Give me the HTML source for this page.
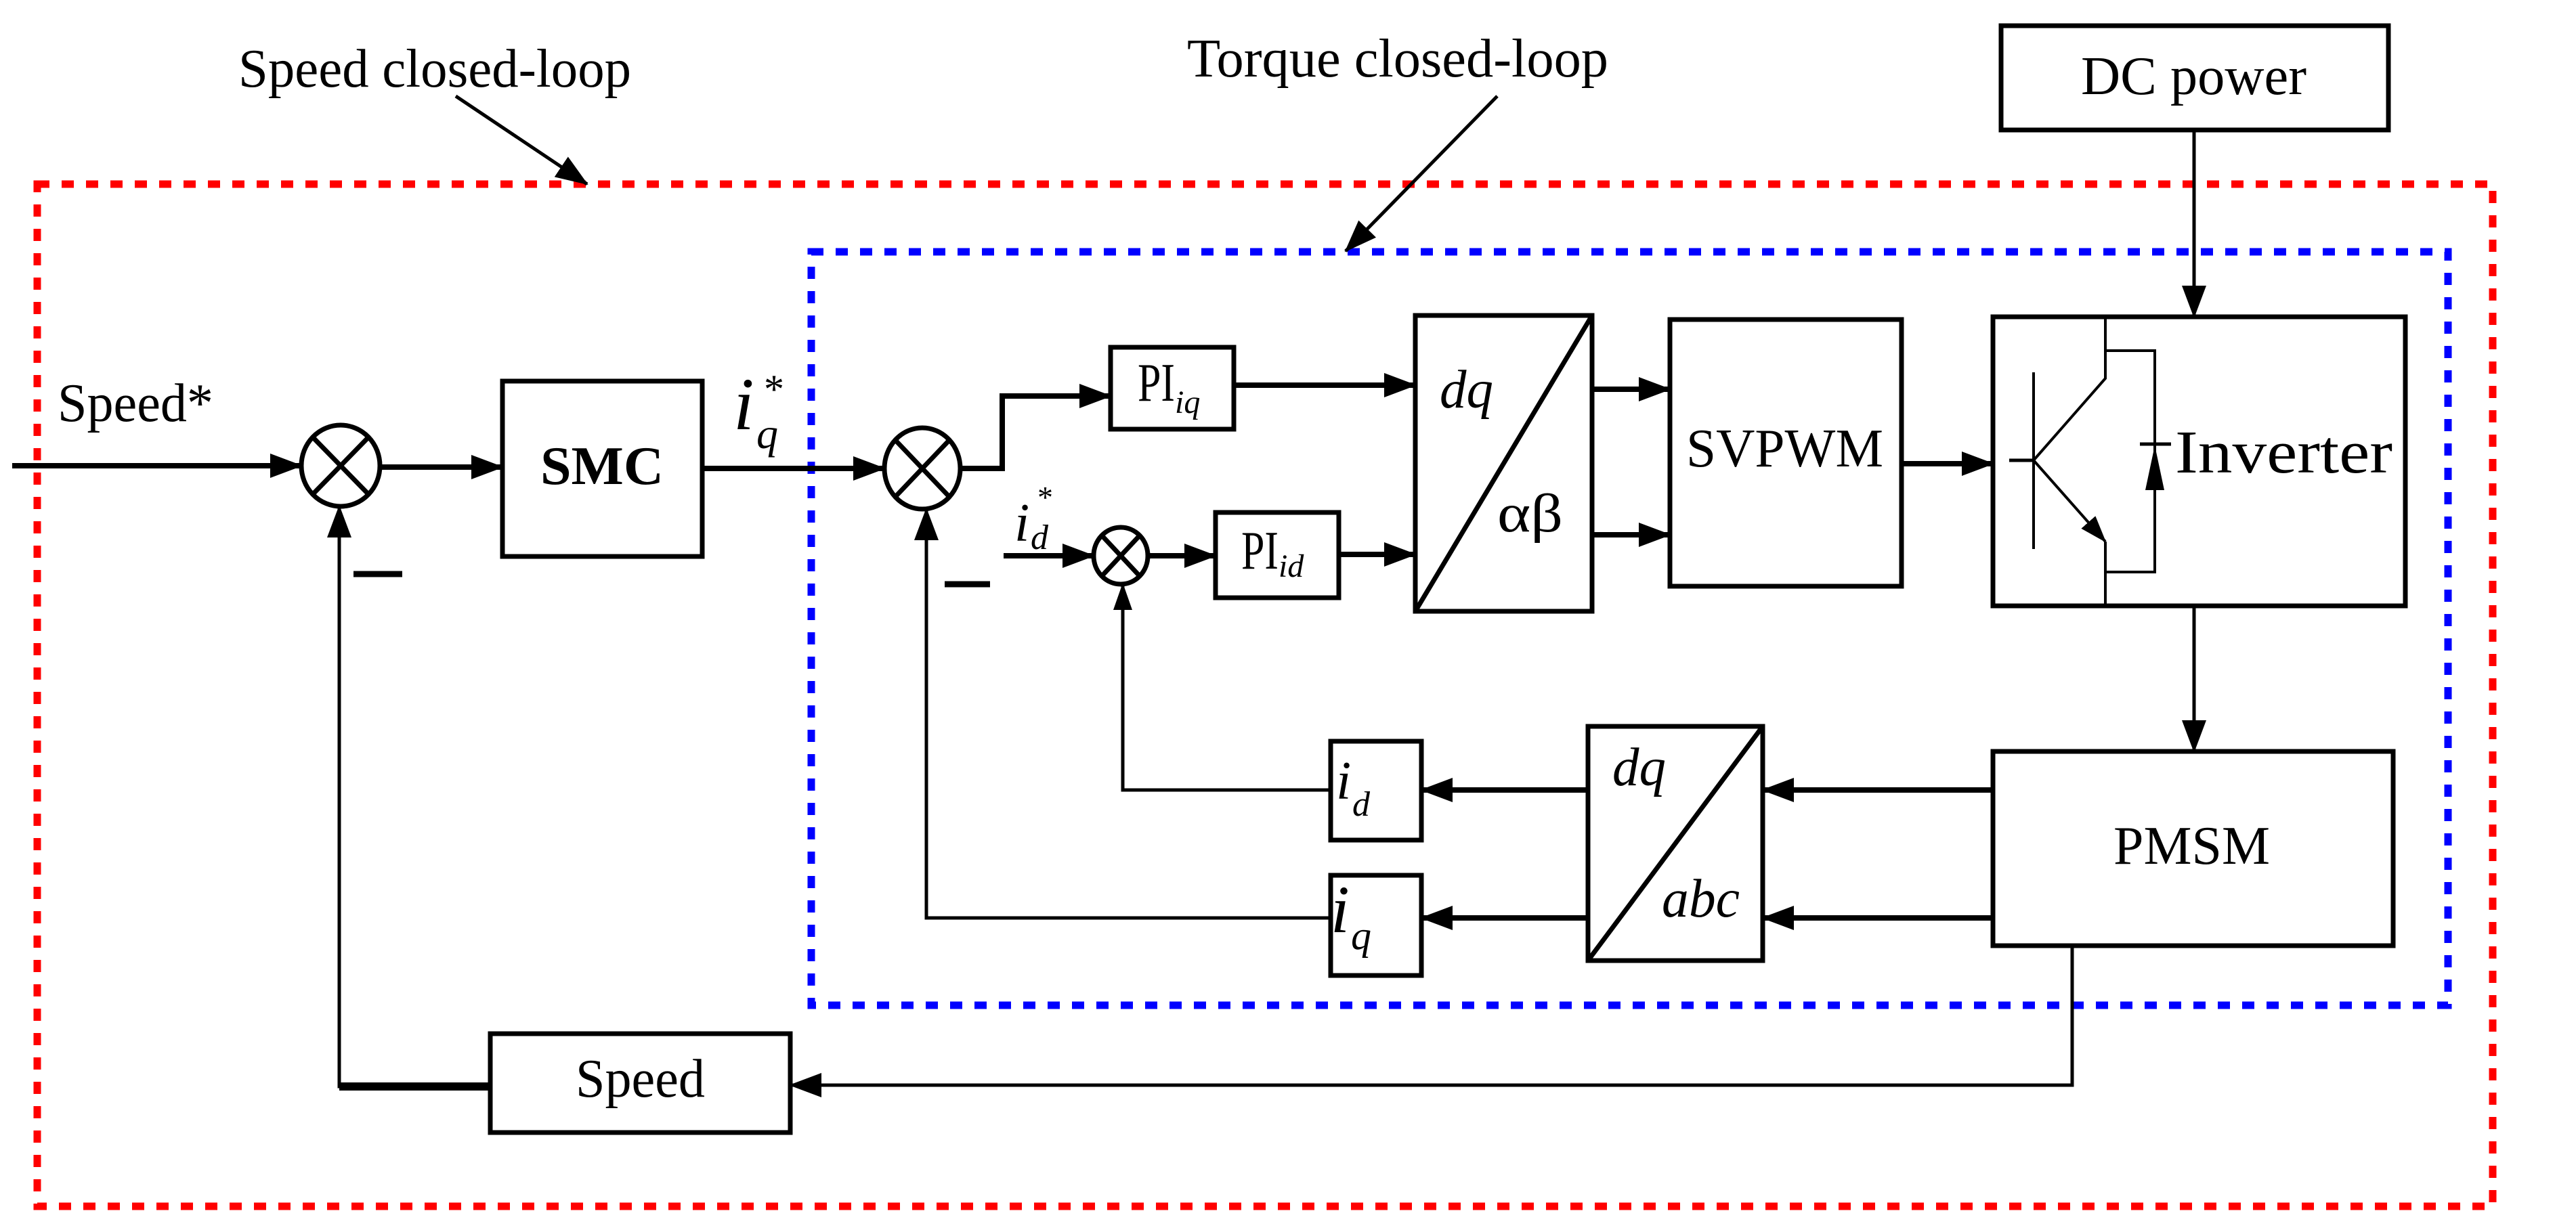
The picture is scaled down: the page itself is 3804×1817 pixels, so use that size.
<!DOCTYPE html>
<html><head><meta charset="utf-8"><style>html,body{margin:0;padding:0;background:#fff}svg{display:block}</style></head>
<body>
<svg width="3804" height="1817" viewBox="0 0 3804 1817" xmlns="http://www.w3.org/2000/svg" font-family="'Liberation Serif', serif">
<defs>
<marker id="a" markerUnits="userSpaceOnUse" markerWidth="50" markerHeight="40" refX="46" refY="20" orient="auto">
<path d="M0,2 L48,20 L0,38 Z" fill="#000"/></marker>
<marker id="s" markerUnits="userSpaceOnUse" markerWidth="40" markerHeight="30" refX="38" refY="15" orient="auto">
<path d="M0,1 L40,15 L0,29 Z" fill="#000"/></marker>
</defs>
<rect width="3804" height="1817" fill="#fff"/>
<!-- dashed boxes -->
<rect x="55" y="272" width="3626" height="1510" fill="none" stroke="#f00" stroke-width="11" stroke-dasharray="18 18"/>
<rect x="1198" y="372" width="2417" height="1113" fill="none" stroke="#00f" stroke-width="11" stroke-dasharray="18 18"/>
<!-- labels top -->
<text x="352" y="128" font-size="80" textLength="580" lengthAdjust="spacingAndGlyphs">Speed closed-loop</text>
<line x1="673" y1="142" x2="867" y2="272" stroke="#000" stroke-width="5" marker-end="url(#a)"/>
<text x="1753" y="113" font-size="80" textLength="622" lengthAdjust="spacingAndGlyphs">Torque closed-loop</text>
<line x1="2211" y1="142" x2="1987" y2="371" stroke="#000" stroke-width="5" marker-end="url(#a)"/>
<g fill="none" stroke="#000" stroke-width="7">
<rect x="2955" y="38" width="572" height="154"/>
<rect x="742" y="563" width="295" height="259"/>
<rect x="1640" y="513" width="182" height="121"/>
<rect x="1795" y="757" width="182" height="126"/>
<rect x="2090" y="466" width="261" height="437"/>
<line x1="2090" y1="903" x2="2351" y2="466"/>
<rect x="2466" y="472" width="342" height="394"/>
<rect x="2943" y="468" width="609" height="427"/>
<rect x="2943" y="1110" width="591" height="287"/>
<rect x="2345" y="1073" width="258" height="346"/>
<line x1="2345" y1="1419" x2="2603" y2="1073"/>
<rect x="1965" y="1095" width="134" height="146"/>
<rect x="1965" y="1293" width="134" height="148"/>
<rect x="724" y="1527" width="443" height="146"/>
<ellipse cx="503" cy="688" rx="58" ry="60"/>
<line x1="462" y1="646" x2="544" y2="730"/><line x1="544" y1="646" x2="462" y2="730"/>
<ellipse cx="1362" cy="692" rx="56" ry="60"/>
<line x1="1322" y1="650" x2="1402" y2="734"/><line x1="1402" y1="650" x2="1322" y2="734"/>
<ellipse cx="1655" cy="821" rx="40" ry="42"/>
<line x1="1627" y1="791" x2="1683" y2="851"/><line x1="1683" y1="791" x2="1627" y2="851"/>
</g>
<!-- connectors -->
<g fill="none" stroke="#000" stroke-width="8">
<line x1="18" y1="688" x2="445" y2="688" marker-end="url(#a)"/>
<line x1="564" y1="690" x2="742" y2="690" marker-end="url(#a)"/>
<line x1="1037" y1="692" x2="1306" y2="692" marker-end="url(#a)"/>
<polyline points="1418,692 1480,692 1480,585 1640,585" marker-end="url(#a)"/>
<line x1="1482" y1="821" x2="1615" y2="821" marker-end="url(#a)"/>
<line x1="1695" y1="821" x2="1795" y2="821" marker-end="url(#a)"/>
<line x1="1822" y1="569" x2="2090" y2="569" marker-end="url(#a)"/>
<line x1="1977" y1="819" x2="2090" y2="819" marker-end="url(#a)"/>
<line x1="2351" y1="575" x2="2466" y2="575" marker-end="url(#a)"/>
<line x1="2351" y1="790" x2="2466" y2="790" marker-end="url(#a)"/>
<line x1="2808" y1="685" x2="2943" y2="685" marker-end="url(#a)"/>
<line x1="2943" y1="1167" x2="2603" y2="1167" marker-end="url(#a)"/>
<line x1="2943" y1="1356" x2="2603" y2="1356" marker-end="url(#a)"/>
<line x1="2345" y1="1167" x2="2099" y2="1167" marker-end="url(#a)"/>
<line x1="2345" y1="1356" x2="2099" y2="1356" marker-end="url(#a)"/>
</g>
<g fill="none" stroke="#000" stroke-width="5">
<polyline points="1965,1167 1658,1167 1658,863" marker-end="url(#s)"/>
<polyline points="1965,1356 1368,1356 1368,752" marker-end="url(#a)"/>
<polyline points="724,1605 501,1605 501,748" marker-end="url(#a)"/>
<polyline points="3060,1397 3060,1603 1167,1603" marker-end="url(#a)"/>
<line x1="3240" y1="192" x2="3240" y2="468" marker-end="url(#a)"/>
<line x1="3240" y1="895" x2="3240" y2="1110" marker-end="url(#a)"/>
<!-- transistor -->
<line x1="3003" y1="550" x2="3003" y2="811" stroke-width="4"/>
<line x1="2967" y1="680" x2="3003" y2="680"/>
<polyline points="3109,468 3109,559 3003,680" stroke-width="4"/>
<line x1="3003" y1="680" x2="3109" y2="800" stroke-width="4" marker-end="url(#s)"/>
<polyline points="3109,800 3109,895" stroke-width="4"/>
<polyline points="3109,518 3182,518 3182,845 3109,845" stroke-width="4"/>
<line x1="3160" y1="656" x2="3206" y2="656"/>
</g>
<line x1="501" y1="1605" x2="724" y2="1605" stroke="#000" stroke-width="12"/>
<path d="M3182,658 L3196,724 L3168,724 Z" fill="#000"/>
<!-- minus signs -->
<line x1="522" y1="848" x2="594" y2="848" stroke="#000" stroke-width="9"/>
<line x1="1395" y1="863" x2="1462" y2="863" stroke="#000" stroke-width="9"/>
<!-- texts -->
<text x="3073" y="139" font-size="80" textLength="333" lengthAdjust="spacingAndGlyphs">DC power</text>
<text x="85" y="622" font-size="80" textLength="230" lengthAdjust="spacingAndGlyphs">Speed*</text>
<text x="798" y="715" font-size="80" font-weight="bold" textLength="182" lengthAdjust="spacingAndGlyphs">SMC</text>
<text x="2490" y="689" font-size="80" textLength="291" lengthAdjust="spacingAndGlyphs">SVPWM</text>
<text x="3212" y="698" font-size="90" textLength="321" lengthAdjust="spacingAndGlyphs">Inverter</text>
<text x="3121" y="1276" font-size="80" textLength="231" lengthAdjust="spacingAndGlyphs">PMSM</text>
<text x="850" y="1620" font-size="80" textLength="191" lengthAdjust="spacingAndGlyphs">Speed</text>
<g font-style="italic">
<text x="2126" y="602" font-size="80" textLength="79" lengthAdjust="spacingAndGlyphs">dq</text>
<text x="2211" y="785" font-size="80" font-style="normal" textLength="97" lengthAdjust="spacingAndGlyphs">αβ</text>
<text x="2381" y="1160" font-size="80" textLength="79" lengthAdjust="spacingAndGlyphs">dq</text>
<text x="2454" y="1354" font-size="80" textLength="115" lengthAdjust="spacingAndGlyphs">abc</text>
<text x="1973" y="1180" font-size="80">i</text>
<text x="1997" y="1205" font-size="52">d</text>
<text x="1965" y="1377" font-size="100">i</text>
<text x="1995" y="1402" font-size="60">q</text>
<text x="1083" y="634" font-size="110">i</text>
<text x="1117" y="662" font-size="64">q</text>
<text x="1498" y="799" font-size="80">i</text>
<text x="1522" y="811" font-size="52">d</text>
<text x="1735" y="610" font-size="48">iq</text>
<text x="1888" y="852" font-size="48">id</text>
</g>
<text x="1128" y="595" font-size="60">*</text>
<text x="1532" y="750" font-size="46">*</text>
<text x="1680" y="592" font-size="80" textLength="55" lengthAdjust="spacingAndGlyphs">PI</text>
<text x="1833" y="840" font-size="80" textLength="55" lengthAdjust="spacingAndGlyphs">PI</text>
</svg>
</body></html>
